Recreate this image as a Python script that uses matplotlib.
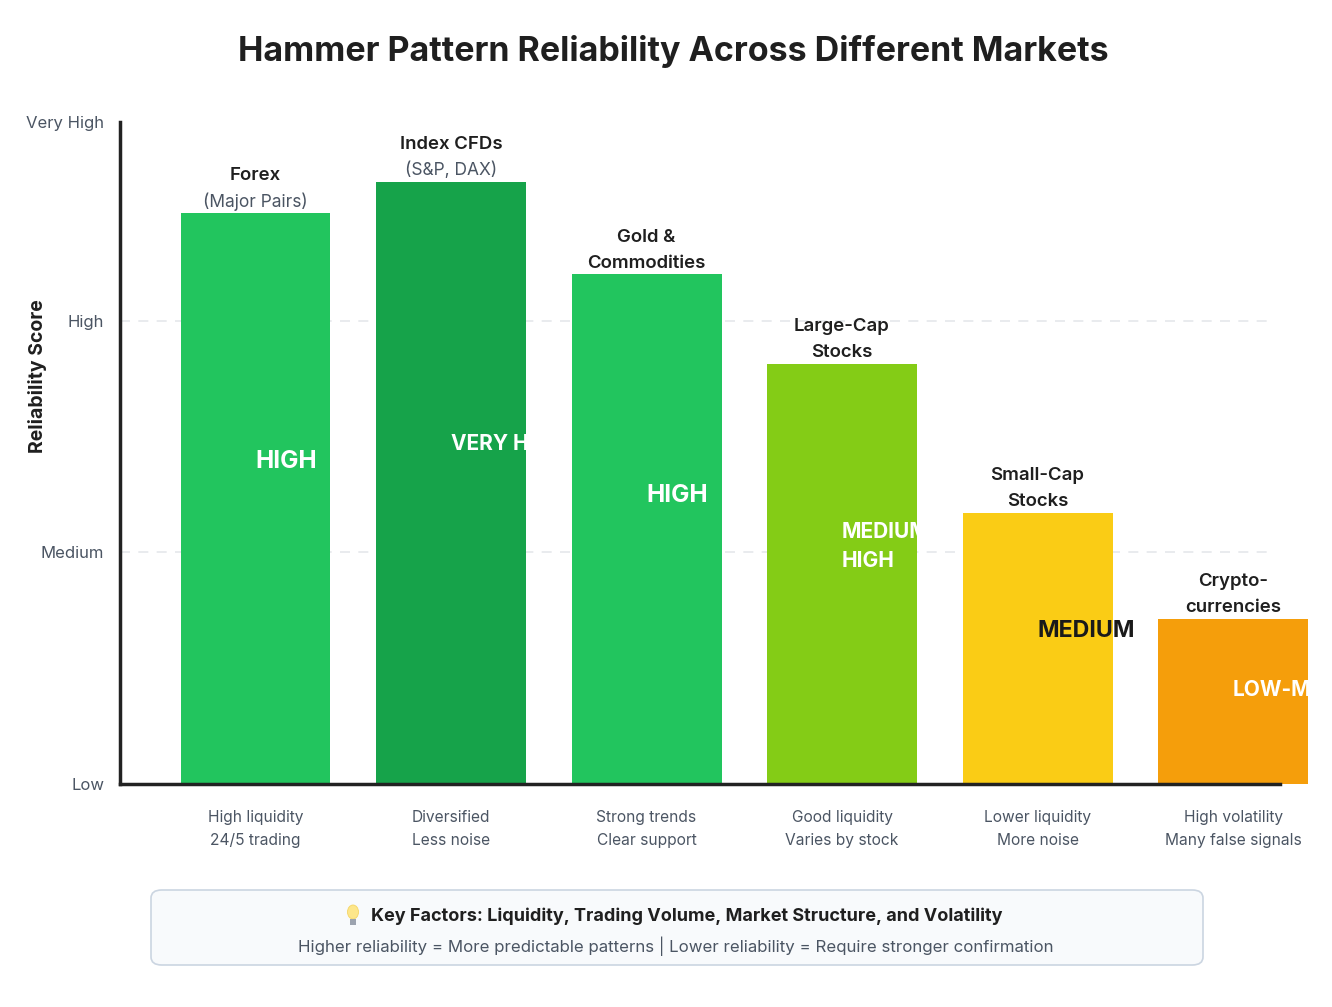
import matplotlib.pyplot as plt
from matplotlib.patches import FancyBboxPatch, Ellipse, Rectangle

plt.rcParams["font.family"] = ["Inter", "DejaVu Sans"]

markets      = ["Forex", "Index CFDs", "Gold &\nCommodities", "Large-Cap\nStocks",
                "Small-Cap\nStocks", "Crypto-\ncurrencies"]
subtitles    = ["(Major Pairs)", "(S&P, DAX)", "", "", "", ""]
scores       = [86.3, 91, 77, 63.5, 41, 25]
ratings      = ["HIGH", "VERY HIGH", "HIGH", "MEDIUM\nHIGH", "MEDIUM", "LOW-MEDIUM"]
descriptions = ["High liquidity\n24/5 trading", "Diversified\nLess noise",
                "Strong trends\nClear support", "Good liquidity\nVaries by stock",
                "Lower liquidity\nMore noise", "High volatility\nMany false signals"]
level_ticks  = [0, 35, 70, 100]
level_labels = ["Low", "Medium", "High", "Very High"]

COLORS = ["#22c55e", "#16a34a", "#22c55e", "#84cc16", "#facc15", "#f59e0b"]
TEXT_COLORS = ["white", "white", "white", "white", "#1a1a1a", "white"]
RATING_SIZE = [17.5, 15, 17.5, 15, 16.7, 15]

DARK = "#1f1f1f"
GRAY = "#4b5563"

fig = plt.figure(figsize=(13.32, 10.07), dpi=100)
ax = fig.add_axes([120 / 1332, 1 - 784 / 1007, 1160 / 1332, 662 / 1007])

fig.text(673 / 1332, 1 - 51 / 1007, "Hammer Pattern Reliability Across Different Markets",
         ha="center", va="center", fontsize=24.5, fontweight="bold", color=DARK)

x = list(range(len(markets)))
bars = ax.bar(x, scores, width=0.767, color=COLORS, zorder=2, clip_on=False)

ax.set_xlim(-0.693, 5.24)
ax.set_ylim(0, 100)

# grid at Medium / High only
for lv in level_ticks[1:3]:
    ax.axhline(lv, xmax=0.995, color="#e5e7eb", linestyle=(0, (6, 5)), linewidth=1.2, zorder=1)

ax.set_yticks(level_ticks)
ax.set_yticklabels(level_labels, fontsize=12, color=GRAY)
ax.tick_params(axis="y", length=0, pad=11.5)
ax.set_xticks([])

for side in ["top", "right"]:
    ax.spines[side].set_visible(False)
for side in ["left", "bottom"]:
    ax.spines[side].set_color("#222222")
    ax.spines[side].set_linewidth(2.5)

fig.text(38 / 1332, 1 - 376 / 1007, "Reliability Score", rotation=90,
         ha="center", va="center", fontsize=14, fontweight="bold", color=DARK)

for i, bar in enumerate(bars):
    # labels above bar
    lines = [(s, "semibold", DARK) for s in markets[i].split("\n")]
    if subtitles[i]:
        lines.append((subtitles[i], "normal", GRAY))
    n = len(lines)
    for k, (txt, weight, col) in enumerate(lines):
        off = 8 + (n - 1 - k) * 18.7
        ax.annotate(txt, xy=(x[i], scores[i]), xytext=(0, off), textcoords="offset points",
                    ha="center", va="center", fontsize=13.4 if weight != "normal" else 12.5,
                    fontweight=weight, color=col, annotation_clip=False)

    # rating inside bar
    t = ax.text(x[i], scores[i] * 0.565, ratings[i], ha="left", va="center",
                fontsize=RATING_SIZE[i], fontweight="bold", color=TEXT_COLORS[i],
                linespacing=1.6, zorder=3)
    if TEXT_COLORS[i] == "white":
        t.set_clip_path(bar)

    # description below axis
    ax.annotate(descriptions[i], xy=(x[i], 0), xytext=(0, -32.5), textcoords="offset points",
                ha="center", va="center", fontsize=11.2, color=GRAY, linespacing=1.65,
                annotation_clip=False)

# key factors box
box = FancyBboxPatch((151 / 1332, 1 - 965 / 1007), 1052 / 1332, 75 / 1007,
                     boxstyle="round,pad=0,rounding_size=0.008", transform=fig.transFigure,
                     facecolor="#f8fafc", edgecolor="#cbd5e1", linewidth=1.2)
fig.patches.append(box)

# small light bulb icon
bx, by = 353 / 1332, 1 - 912 / 1007
fig.patches.append(Ellipse((bx, by), 11 / 1332, 14 / 1007, transform=fig.transFigure,
                           facecolor="#fde68a", edgecolor="#f5d565", linewidth=0.6))
fig.patches.append(Rectangle((bx - 3 / 1332, by - 13 / 1007), 6 / 1332, 6 / 1007,
                             transform=fig.transFigure, facecolor="#9ca3af", edgecolor="none"))

fig.text(687 / 1332, 1 - 916 / 1007,
         "Key Factors: Liquidity, Trading Volume, Market Structure, and Volatility",
         ha="center", va="center", fontsize=13, fontweight="bold", color=DARK)
fig.text(676 / 1332, 1 - 946 / 1007,
         "Higher reliability = More predictable patterns | Lower reliability = Require stronger confirmation",
         ha="center", va="center", fontsize=12.15, color=GRAY)

fig.savefig("out.png", dpi=100, facecolor="white")
